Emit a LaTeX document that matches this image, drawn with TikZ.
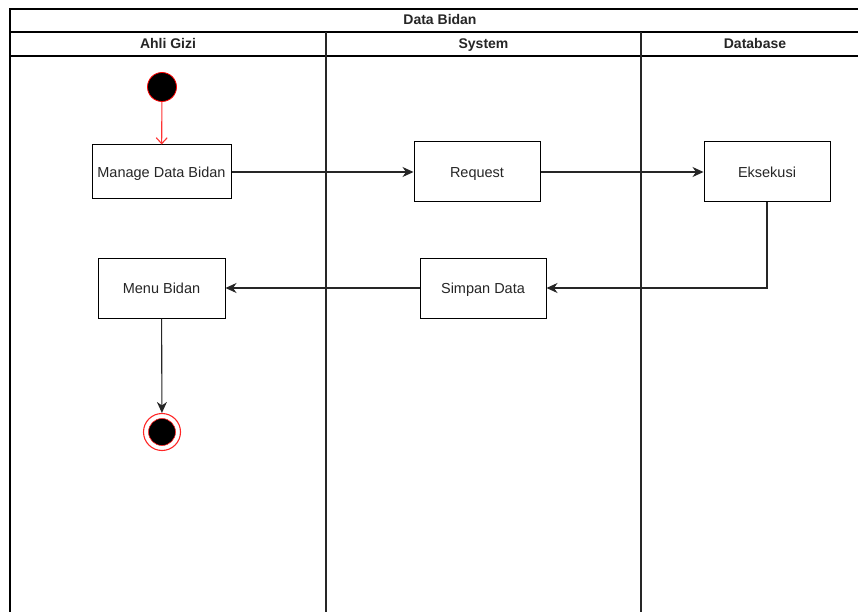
\documentclass[tikz,border=0pt]{standalone}
\usepackage{fontspec}
\setmainfont{Liberation Sans}
\usetikzlibrary{arrows.meta}
\begin{document}
\begin{tikzpicture}[x=1pt,y=-1pt,
  frame/.style={draw=black,line width=1.1pt},
  lanesep/.style={draw=black!85,line width=1.1pt},
  headtext/.style={font=\fontsize{14}{16}\selectfont\bfseries,text=black!85,inner sep=0pt,text height=10pt,text depth=0pt},
  action/.style={draw=black,line width=1pt,fill=white,font=\fontsize{14.5}{17}\selectfont,text=black!85,inner sep=0pt,text height=10.5pt,text depth=0pt},
  flow/.style={draw=black!85,line width=1.1pt,-{Stealth[length=11pt,width=10pt,inset=3.5pt]}},
  initflow/.style={draw=red!80,line width=1.1pt,-{Straight Barb[length=6pt,width=11pt]}}]
\useasboundingbox[fill=white] (0,0) rectangle (858,612);

% pool outline, title row and lane header row
\draw[frame] (858,9) -- (10,9) -- (10,612);
\draw[frame] (10,32) -- (858,32);
\draw[frame] (10,56) -- (858,56);
\draw[lanesep] (326,32) -- (326,612);
\draw[lanesep] (641,32) -- (641,612);

\node[headtext] (title) at (440,20) {Data Bidan};
\node[headtext] (laneA) at (168,44) {Ahli Gizi};
\node[headtext] (laneB) at (483.5,44) {System};
\node[headtext] (laneC) at (755,44) {Database};

% activity nodes
\node[circle,fill=black,draw=red,line width=0.8pt,minimum size=29pt,inner sep=0pt] (start) at (162,87) {};
\node[action,minimum width=139pt,minimum height=54pt] (manage) at (161.5,172) {Manage Data Bidan};
\node[action,minimum width=126pt,minimum height=60pt] (request) at (477,172) {Request};
\node[action,minimum width=126pt,minimum height=60pt] (eksekusi) at (767,172) {Eksekusi};
\node[action,minimum width=126pt,minimum height=60pt] (simpan) at (483,288) {Simpan Data};
\node[action,minimum width=127pt,minimum height=60pt] (menu) at (161.5,288) {Menu Bidan};
\node[circle,draw=red!85,line width=1.1pt,minimum size=37pt,inner sep=0pt,
  path picture={\filldraw[fill=black,draw=red!85,line width=0.6pt] (path picture bounding box.center) circle (13.5pt);}] (final) at (162,432) {};

% control flow
\draw[initflow] (start) -- (manage);
\draw[flow] (manage) -- (request);
\draw[flow] (request) -- (eksekusi);
\draw[flow] (eksekusi.south) |- (simpan.east);
\draw[flow] (simpan) -- (menu);
\draw[flow] (menu) -- (final);
\end{tikzpicture}
\end{document}
